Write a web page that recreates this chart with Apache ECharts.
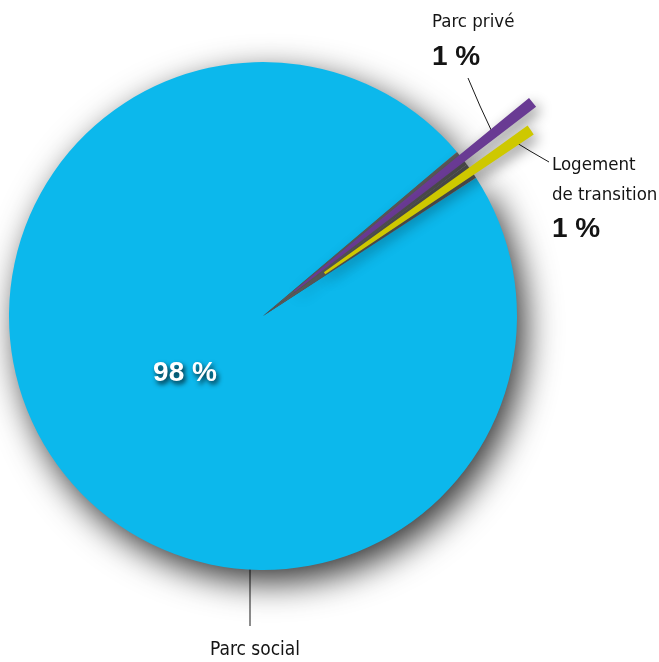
<!DOCTYPE html>
<html>
<head>
<meta charset="utf-8">
<script src="https://cdn.jsdelivr.net/npm/echarts@6/dist/echarts.min.js"></script>
<style>
  html, body { margin: 0; padding: 0; background: #ffffff; }
  #chart { width: 659px; height: 662px; }
</style>
</head>
<body>
<div id="chart"></div>
<script>
// ---- data ----
const categories = ['Parc social', 'Parc privé', 'Logement de transition'];
const shares = [98, 1, 1];          // percent
const sliceColors = ['#0cb8ec', '#693a93', '#cec800'];

// ---- styling ----
const FONT = "'DejaVu Sans Condensed', 'Liberation Sans Narrow', 'DejaVu Sans', sans-serif";
const BOLD_FONT = "'Liberation Sans', 'DejaVu Sans', sans-serif";
const CENTER = [263, 316];
const START = 33;
const INK = '#141414';

function pct(v) { return v + ' %'; }

const chart = echarts.init(document.getElementById('chart'), null, { renderer: 'canvas' });

// base disc: blue main slice, dark grey wedge where the small slices sit
const baseData = categories.map((name, i) => ({
  name: name,
  value: shares[i],
  itemStyle: i === 0
    ? { color: sliceColors[0], shadowBlur: 34, shadowColor: 'rgba(0,0,0,0.8)', shadowOffsetX: 8, shadowOffsetY: 12 }
    : { color: '#5a5a5a' },
  label: { show: i === 0 },
  labelLine: { show: false }
}));

// an exploded, longer wedge for one of the small slices
function wedgeData(visibleIdx, withSocialLabel) {
  return categories.map((name, i) => {
    const vis = i === visibleIdx;
    return {
      name: name,
      value: shares[i],
      itemStyle: vis
        ? { color: sliceColors[i], shadowBlur: 14, shadowColor: 'rgba(0,0,0,0.45)', shadowOffsetX: 4, shadowOffsetY: 5 }
        : { color: 'rgba(0,0,0,0)' },
      label: { show: vis || (withSocialLabel && i === 0) },
      labelLine: { show: vis || (withSocialLabel && i === 0) }
    };
  });
}

const richText = {
  n: { fontFamily: FONT, fontSize: 18.5, lineHeight: 30, color: INK },
  s: { fontFamily: FONT, fontSize: 19, lineHeight: 30, color: INK },
  v: { fontFamily: BOLD_FONT, fontSize: 28, fontWeight: 'bold', lineHeight: 40, color: INK },
  v2: { fontFamily: BOLD_FONT, fontSize: 28, fontWeight: 'bold', lineHeight: 38, color: INK }
};

const lineStyle = { color: '#1a1a1a', width: 1 };

const option = {
  backgroundColor: '#ffffff',
  animation: false,
  series: [
    {
      type: 'pie',
      silent: true,
      center: CENTER,
      radius: [0, 254],
      startAngle: START,
      clockwise: true,
      avoidLabelOverlap: false,
      data: baseData,
      label: {
        position: 'inside',
        formatter: p => pct(p.value),
        color: '#ffffff',
        fontFamily: BOLD_FONT,
        fontWeight: 'bold',
        fontSize: 28,
        textShadowColor: 'rgba(0,0,0,0.85)',
        textShadowBlur: 5,
        textShadowOffsetX: 2,
        textShadowOffsetY: 3
      },
      labelLayout: p => p.dataIndex === 0 ? { x: 185, y: 373, align: 'center', verticalAlign: 'middle' } : {},
      emphasis: { disabled: true }
    },
    {
      type: 'pie',
      silent: true,
      center: CENTER,
      radius: [40, 344],
      startAngle: START,
      clockwise: true,
      padAngle: 1.7,
      avoidLabelOverlap: false,
      data: wedgeData(1, true),
      label: {
        position: 'outside',
        formatter: p => p.dataIndex === 0
          ? '{s|' + p.name + '}'
          : '{n|' + p.name + '}\n{v|' + pct(p.value) + '}',
        rich: richText
      },
      labelLine: { show: true, length: 10, length2: 10, smooth: false, lineStyle: lineStyle },
      labelLayout: p => {
        if (p.dataIndex === 0) {
          return { x: 255, y: 650, align: 'center', verticalAlign: 'middle',
                   labelLinePoints: [[250, 549], [250, 590], [250, 626]] };
        }
        if (p.dataIndex === 1) {
          return { x: 432, y: 7, align: 'left', verticalAlign: 'top',
                   labelLinePoints: [[493, 134], [480, 106], [468, 78]] };
        }
        return {};
      },
      emphasis: { disabled: true }
    },
    {
      type: 'pie',
      silent: true,
      center: CENTER,
      radius: [75, 326],
      startAngle: START,
      clockwise: true,
      padAngle: 1.7,
      avoidLabelOverlap: false,
      data: wedgeData(2, false),
      label: {
        position: 'outside',
        formatter: p => '{n|' + p.name.replace(' de ', '\nde ') + '}\n{v2|' + pct(p.value) + '}',
        rich: richText
      },
      labelLine: { show: true, length: 10, length2: 10, smooth: false, lineStyle: lineStyle },
      labelLayout: p => p.dataIndex === 2
        ? { x: 552, y: 150, align: 'left', verticalAlign: 'top',
            labelLinePoints: [[512, 140], [530, 151], [549, 162]] }
        : {},
      emphasis: { disabled: true }
    }
  ]
};

chart.setOption(option);
</script>
</body>
</html>
